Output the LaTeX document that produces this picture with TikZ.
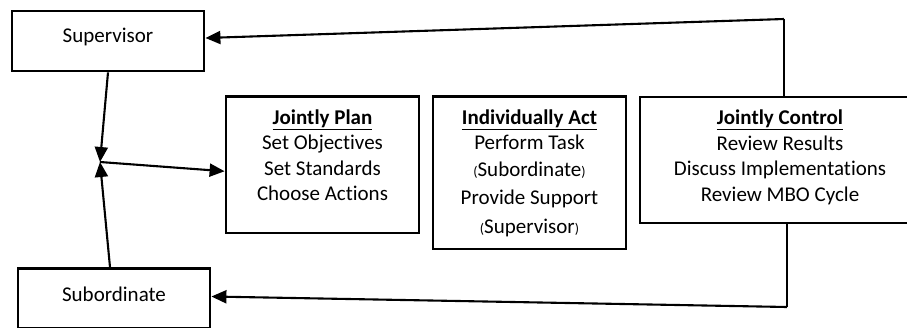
\documentclass[tikz,border=0pt]{standalone}
\usepackage{fontspec}
\setmainfont{Carlito}[Ligatures=NoCommon]
\usepackage{tikz}
\usetikzlibrary{arrows.meta,positioning}
\tikzset{box/.style={draw,line width=2.8pt,inner sep=0pt},
	step text/.style={align=center,inner sep=0pt,font=\fontsize{21pt}{25.5pt}\selectfont},
	link/.style={line width=2.1pt,-{Triangle[length=15pt,width=13pt]}},
	feed/.style={line width=2.1pt}}
\newcommand\inparen[1]{{\fontsize{14pt}{14pt}\selectfont(}#1{\fontsize{14pt}{14pt}\selectfont)}}

\begin{document}
\begin{tikzpicture}[x=1pt,y=-1pt]
	\useasboundingbox (0,0) rectangle (907,327);
	% people
	\node[box,minimum width=192pt,minimum height=60pt] (sup) at (108,41) {};
	\node[step text] at (108,37) (suptext) {Supervisor};
	\node[box,minimum width=192pt,minimum height=60pt] (sub) at (114,298.5) {};
	\node[step text] at (114,294) (subtext) {Subordinate};
	% steps of the cycle
	\node[box,minimum width=193pt,minimum height=136.5pt] (plan) at (322.5,164.75) {};
	\node[step text,below=14pt of plan.north] (plantext) {\underline{\textbf{Jointly Plan}}\\
		Set Objectives\\ Set Standards\\ Choose Actions};
	\node[box,minimum width=193pt,minimum height=152.5pt] (act) at (529.5,172.75) {};
	\node[step text,below=14pt of act.north] (acttext) {\underline{\textbf{Individually Act}}\\
		Perform Task\\[1pt] \inparen{Subordinate}\\[3pt] Provide Support\\[3pt] \inparen{Supervisor}};
	\node[box,minimum width=280pt,minimum height=126pt] (ctrl) at (780,160) {};
	\node[step text,below=14pt of ctrl.north] (ctrltext) {\underline{\textbf{Jointly Control}}\\
		Review Results\\ Discuss Implementations\\ Review MBO Cycle};
	% arrows
	\coordinate (j) at (100,162);
	\coordinate (topc) at (784,19);
	\coordinate (botc) at (787,307);
	\draw[link] (sup.south) -- (j);
	\draw[link] ([xshift=-4pt]sub.north) -- (j);
	\draw[link] (j) -- ([yshift=-6.5pt]plan.west);
	\draw[feed] ([xshift=4pt]ctrl.north) -- (topc);
	\draw[link] (topc) -- ([yshift=3pt]sup.east);
	\draw[feed] ([xshift=7pt]ctrl.south) -- (botc);
	\draw[link] (botc) -- ([yshift=2pt]sub.east);
\end{tikzpicture}
\end{document}
